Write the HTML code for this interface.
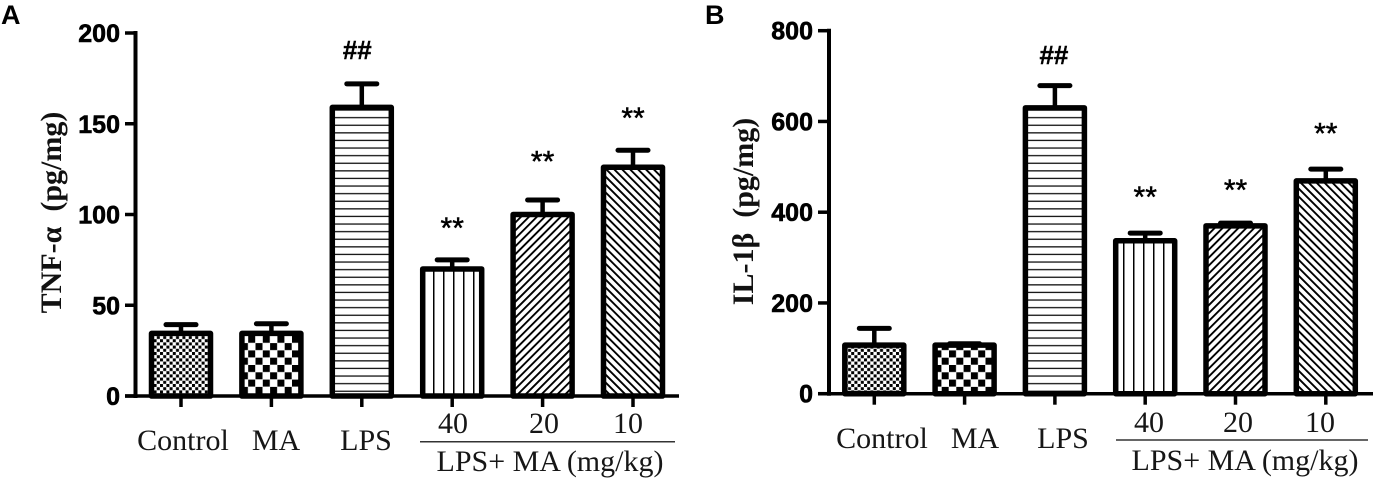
<!DOCTYPE html>
<html lang="en">
<head>
<meta charset="utf-8">
<title>TNF-α and IL-1β bar charts</title>
<style>
html,body{margin:0;padding:0;background:#fff;width:1379px;height:484px;overflow:hidden}
svg{display:block}
.tick{font:bold 25px "Liberation Sans",sans-serif;fill:#000;stroke:#000;stroke-width:.6px;text-anchor:end}
.cat{font:30px "Liberation Serif",serif;fill:#161616;text-anchor:middle}
.title{font:bold 30px "Liberation Serif",serif;fill:#111;text-anchor:middle}
.panel{font:bold 27px "Liberation Sans",sans-serif;fill:#000}
.hash{font:bold 26px "Liberation Sans",sans-serif;fill:#000;stroke:#000;stroke-width:.4px;text-anchor:middle}
.star{font:30px "Liberation Sans",sans-serif;fill:#000;stroke:#000;stroke-width:.5px;text-anchor:middle}
</style>
</head>
<body>
<svg id="figure" xmlns="http://www.w3.org/2000/svg" width="1379" height="484" viewBox="0 0 1379 484">
<defs>
<pattern id="p-fine" patternUnits="userSpaceOnUse" width="6.4" height="6.4"><rect width="6.4" height="6.4" fill="#fff"/><rect width="3" height="3" fill="#000"/><rect x="3.2" y="3.2" width="3" height="3" fill="#000"/></pattern>
<pattern id="p-coarse" patternUnits="userSpaceOnUse" width="14.6" height="14.6"><rect width="14.6" height="14.6" fill="#fff"/><rect width="7" height="7" fill="#000"/><rect x="7.3" y="7.3" width="7" height="7" fill="#000"/></pattern>
<pattern id="p-horizontal" patternUnits="userSpaceOnUse" width="10" height="7.6"><rect width="10" height="7.6" fill="#fff"/><rect y="3" width="10" height="1.3" fill="#111"/></pattern>
<pattern id="p-vertical" patternUnits="userSpaceOnUse" width="10" height="10"><rect width="10" height="10" fill="#fff"/><rect x="3" width="1.5" height="10" fill="#000"/></pattern>
<pattern id="p-rising" patternUnits="userSpaceOnUse" width="5.6" height="5.6" patternTransform="rotate(45)"><rect width="5.6" height="5.6" fill="#fff"/><rect width="1.9" height="5.6" fill="#000"/></pattern>
<pattern id="p-falling" patternUnits="userSpaceOnUse" width="5.6" height="5.6" patternTransform="rotate(-45)"><rect width="5.6" height="5.6" fill="#fff"/><rect width="1.9" height="5.6" fill="#000"/></pattern>
</defs>

<g id="panel-a">
  <text class="panel" x="1" y="24">A</text>
  <text class="title" transform="translate(61,212.5) rotate(-90)">TNF-α&#160;&#160;(pg/mg)</text>
  <text class="cat" x="183" y="450">Control</text>
  <text class="cat" x="276" y="450">MA</text>
  <text class="cat" x="366" y="450">LPS</text>
  <text class="cat" x="453" y="433">40</text>
  <text class="cat" x="544" y="433">20</text>
  <text class="cat" x="628" y="433">10</text>
  <line x1="420" x2="675" y1="441.7" y2="441.7" stroke="#333" stroke-width="1.5"/>
  <text class="cat" x="550" y="471">LPS+ MA (mg/kg)</text>
</g>

<g id="panel-b">
  <text class="panel" x="705" y="24">B</text>
  <text class="title" transform="translate(753,211.5) rotate(-90)">IL-1β&#160;&#160;(pg/mg)</text>
  <text class="cat" x="882" y="448">Control</text>
  <text class="cat" x="975" y="448">MA</text>
  <text class="cat" x="1063" y="448">LPS</text>
  <text class="cat" x="1149" y="432">40</text>
  <text class="cat" x="1238" y="432">20</text>
  <text class="cat" x="1320" y="432">10</text>
  <line x1="1116" x2="1368" y1="440" y2="440" stroke="#333" stroke-width="1.5"/>
  <text class="cat" x="1245" y="470">LPS+ MA (mg/kg)</text>
</g>
</svg>

<script>
// Chart data
const categories = ['control', 'ma', 'lps', 'lps-ma-40', 'lps-ma-20', 'lps-ma-10'];
const fills = ['p-fine', 'p-coarse', 'p-horizontal', 'p-vertical', 'p-rising', 'p-falling'];

const tnfMeans = [34.5, 34.5, 159, 70, 100, 126];
const tnfUppers = [39.3, 39.8, 172, 75, 108, 135.4];
const tnfTicks = [0, 50, 100, 150, 200];
const tnfMarks = ['', '', '##', '**', '**', '**'];
const tnfMarkLevels = [0, 0, 190.6, 96.5, 133, 157];

const ilMeans = [107, 107, 630, 337, 370, 469];
const ilUppers = [144, 110, 679, 354, 376, 495];
const ilTicks = [0, 200, 400, 600, 800];
const ilMarks = ['', '', '##', '**', '**', '**'];
const ilMarkLevels = [0, 0, 746, 449, 464, 589];

const NS = 'http://www.w3.org/2000/svg';

function make(parent, tag, attrs, text) {
  const el = document.createElementNS(NS, tag);
  for (const k in attrs) el.setAttribute(k, attrs[k]);
  if (text !== undefined) el.textContent = text;
  parent.appendChild(el);
  return el;
}

function drawPanel(parent, key, frame, means, uppers, ticks, marks, markLevels) {
  const maxTick = ticks[ticks.length - 1];
  const y = v => frame.yBase - (v / maxTick) * (frame.yBase - frame.yTop);
  const x = i => frame.xFirst + i * frame.xStep;

  means.forEach((mean, i) => {
    const cx = x(i);
    const err = make(parent, 'line', {x1: cx, x2: cx, y1: y(mean), y2: y(uppers[i]), stroke: '#000', 'stroke-width': 4.5});
    
    
    const cap = make(parent, 'line', {x1: cx - 15, x2: cx + 15, y1: y(uppers[i]), y2: y(uppers[i]), stroke: '#000', 'stroke-width': 5, 'stroke-linecap': 'round'});
    
    
    const bar = make(parent, 'rect', {x: cx - 29.5, y: y(mean), width: 59, height: y(0) - y(mean), fill: 'url(#' + fills[i] + ')', stroke: '#000', 'stroke-width': 5.5, 'stroke-linejoin': 'round'});
    
    
    const tick = make(parent, 'line', {x1: cx, x2: cx, y1: y(0), y2: y(0) + 11, stroke: '#000', 'stroke-width': 3.5});
    
    
    if (marks[i]) {
      const isHash = marks[i] === '##';
      const sig = make(parent, 'text', {class: isHash ? 'hash' : 'star', x: cx + (isHash ? frame.hashShift : 0), y: y(markLevels[i]) + (isHash ? 9 : 17)}, marks[i]);
      
      
    }
  });

  const xAxis = make(parent, 'line', {x1: frame.xAxisStart, x2: frame.xAxisEnd, y1: y(0), y2: y(0), stroke: '#000', 'stroke-width': 3.5});
  
  
  const yAxis = make(parent, 'line', {x1: frame.yAxisX, x2: frame.yAxisX, y1: y(maxTick) - 2, y2: y(0) + 2, stroke: '#000', 'stroke-width': 4});
  
  

  ticks.forEach(t => {
    const mark = make(parent, 'line', {x1: frame.xAxisStart, x2: frame.yAxisX, y1: y(t), y2: y(t), stroke: '#000', 'stroke-width': 3.5});
    
    
    const label = make(parent, 'text', {class: 'tick', x: frame.xAxisStart - 5, y: y(t) + 9}, String(t));
    
    
  });
}

drawPanel(document.getElementById('panel-a'), 'a',
  {yBase: 396, yTop: 33, yAxisX: 135.5, xAxisStart: 125, xAxisEnd: 679, xFirst: 181, xStep: 90.4, hashShift: -4.5},
  tnfMeans, tnfUppers, tnfTicks, tnfMarks, tnfMarkLevels);

drawPanel(document.getElementById('panel-b'), 'b',
  {yBase: 393.7, yTop: 30.7, yAxisX: 829, xAxisStart: 818, xAxisEnd: 1373, xFirst: 874.3, xStep: 90.3, hashShift: -1},
  ilMeans, ilUppers, ilTicks, ilMarks, ilMarkLevels);
</script>
</body>
</html>
